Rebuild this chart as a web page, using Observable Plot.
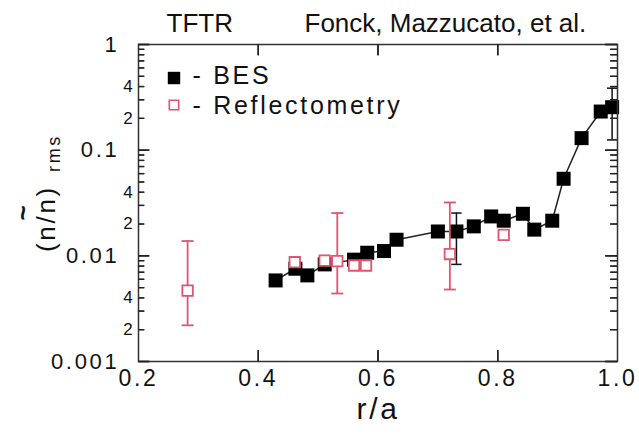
<!DOCTYPE html>
<html><head><meta charset="utf-8">
<script src="https://cdn.jsdelivr.net/npm/d3@7"></script>
<script src="https://cdn.jsdelivr.net/npm/@observablehq/plot@0.6"></script>
<style>
body{margin:0;background:#fff}
</style>
</head><body><div id="chart"></div>
<script>
// BES (filled squares)
const besX = [0.429,0.462,0.482,0.511,0.560,0.582,0.610,0.631,0.700,0.731,0.760,0.789,0.810,0.842,0.861,0.891,0.910,0.940,0.972,0.991];
const besY = [0.00585,0.00755,0.00653,0.0083,0.0092,0.0107,0.0111,0.0142,0.0170,0.0170,0.0190,0.0236,0.0215,0.0250,0.0177,0.0215,0.0536,0.130,0.232,0.255];
// Reflectometry (open squares)
const reflX = [0.282,0.461,0.511,0.532,0.560,0.580,0.720,0.810];
const reflY = [0.00468,0.0087,0.0090,0.0089,0.0081,0.0081,0.0104,0.0158];
// error bars
const besErrX = [0.731,0.991];
const besErrLo = [0.0083,0.125];
const besErrHi = [0.0254,0.386];
const reflErrX = [0.282,0.532,0.720];
const reflErrLo = [0.0022,0.0044,0.0048];
const reflErrHi = [0.0138,0.0254,0.032];
// ticks
const xDomain = [0.2,1.0];
const yDomain = [0.001,1];
const xTicks = [0.2,0.4,0.6,0.8,1.0];
const xTickLabels = ["0.2","0.4","0.6","0.8","1.0"];
const xInnerTicks = [0.4,0.6,0.8];
const yMajor = [0.001,0.01,0.1,1];
const yMajorLabels = ["0.001","0.01","0.1","1"];
const yMinorLabeled = [0.002,0.004,0.02,0.04,0.2,0.4];
const yMinorLabels = ["2","4","2","4","2","4"];
const yMinor = [0.002,0.003,0.004,0.005,0.006,0.007,0.008,0.009,
                0.02,0.03,0.04,0.05,0.06,0.07,0.08,0.09,
                0.2,0.3,0.4,0.5,0.6,0.7,0.8,0.9];

const RED = "#e0546f";
const FONT = "'Liberation Sans', Arial, Helvetica, sans-serif";
const W = 639, H = 434, ML = 138, MR = 22, MT = 44, MB = 73;
const FW = W - ML - MR, FH = H - MT - MB;   // frame size in px
const hline = {draw(ctx,size){const w=Math.sqrt(size);ctx.moveTo(-w/2,0);ctx.lineTo(w/2,0);}};
// fixed-length tick glyph pointing into the frame
const glyph = (dx,dy) => ({draw(ctx,size){ctx.moveTo(0,0);ctx.lineTo(dx,dy);}});
const TK = "#222";
const xMin = () => xDomain[0], xMax = () => xDomain[1];
const yMin = () => yDomain[0], yMax = () => yDomain[1];

const chart = Plot.plot({
  width:W, height:H,
  marginLeft:ML, marginRight:MR, marginTop:MT, marginBottom:MB,
  x:{domain:xDomain, axis:null},
  y:{type:"log", domain:yDomain, axis:null},
  style:{background:"#fff", color:"#222", fontFamily:FONT, letterSpacing:"2.7px"},
  marks:[
    // tick labels
    Plot.text(xTicks,{x:d=>d,frameAnchor:"bottom",lineAnchor:"middle",dy:17,text:(d,i)=>xTickLabels[i],fontSize:23,fill:"#111"}),
    Plot.text(yMajor,{y:d=>d,frameAnchor:"left",dx:-19,textAnchor:"end",lineAnchor:"middle",text:(d,i)=>yMajorLabels[i],fontSize:22,fill:"#111"}),
    Plot.text(yMinorLabeled,{y:d=>d,frameAnchor:"left",dx:-3,textAnchor:"end",lineAnchor:"middle",text:(d,i)=>yMinorLabels[i],fontSize:17,fill:"#111"}),
    // BES
    Plot.line(besX,{x:d=>d,y:(d,i)=>besY[i],stroke:"#222",strokeWidth:1.5}),
    Plot.ruleX(besErrX,{x:d=>d,y1:(d,i)=>besErrLo[i],y2:(d,i)=>besErrHi[i],stroke:"#111",strokeWidth:1.5}),
    Plot.dot(besErrX,{x:d=>d,y:(d,i)=>besErrLo[i],symbol:hline,r:5.8,stroke:"#111",strokeWidth:1.5}),
    Plot.dot(besErrX,{x:d=>d,y:(d,i)=>besErrHi[i],symbol:hline,r:5.8,stroke:"#111",strokeWidth:1.5}),
    Plot.dot(besX,{x:d=>d,y:(d,i)=>besY[i],symbol:"square",r:7.9,fill:"#000",stroke:"none"}),
    // Reflectometry
    Plot.ruleX(reflErrX,{x:d=>d,y1:(d,i)=>reflErrLo[i],y2:(d,i)=>reflErrHi[i],stroke:RED,strokeWidth:1.8}),
    Plot.dot(reflErrX,{x:d=>d,y:(d,i)=>reflErrLo[i],symbol:hline,r:6.8,stroke:RED,strokeWidth:1.8}),
    Plot.dot(reflErrX,{x:d=>d,y:(d,i)=>reflErrHi[i],symbol:hline,r:6.8,stroke:RED,strokeWidth:1.8}),
    Plot.dot(reflX,{x:d=>d,y:(d,i)=>reflY[i],symbol:"square",r:5.9,fill:"#fff",stroke:RED,strokeWidth:1.8}),
    // legend
    Plot.dot([0],{frameAnchor:"top-left",dx:35.5,dy:33.5,symbol:"square",r:7,fill:"#000",stroke:"none"}),
    Plot.dot([0],{frameAnchor:"top-left",dx:35.5,dy:60.5,symbol:"square",r:5.3,fill:"#fff",stroke:RED,strokeWidth:1.6}),
    Plot.text(["- BES"],{frameAnchor:"top-left",dx:54,dy:31,textAnchor:"start",lineAnchor:"middle",fontSize:25,fill:"#111"}),
    Plot.text(["- Reflectometry"],{frameAnchor:"top-left",dx:54,dy:61,textAnchor:"start",lineAnchor:"middle",fontSize:25,fill:"#111"}),
    // titles
    Plot.text(["TFTR"],{frameAnchor:"top-left",dx:28,dy:-21,textAnchor:"start",lineAnchor:"middle",fontSize:26,fill:"#111"}),
    Plot.text(["Fonck, Mazzucato, et al."],{frameAnchor:"top-left",dx:166,dy:-21,textAnchor:"start",lineAnchor:"middle",fontSize:26,fill:"#111"}),
    // axis titles
    Plot.text(["r/a"],{frameAnchor:"bottom",lineAnchor:"middle",textAnchor:"middle",dy:48,fontSize:30,fill:"#111"}),
    Plot.text(["(n/n)"],{frameAnchor:"left",textAnchor:"middle",lineAnchor:"middle",dx:-92,dy:15.5,rotate:-90,fontSize:26,fill:"#111"}),
    Plot.text(["rms"],{frameAnchor:"left",textAnchor:"middle",lineAnchor:"middle",dx:-84,dy:-50,rotate:-90,fontSize:18,fill:"#111"}),
    Plot.text(["~"],{frameAnchor:"left",textAnchor:"middle",lineAnchor:"middle",dx:-115,dy:10,rotate:-90,fontSize:26,fontWeight:"bold",fill:"#111"}),
    // frame and inward ticks (on top)
    Plot.frame({stroke:"#333",strokeWidth:1.5}),
    Plot.ruleX(xInnerTicks,{x:d=>d,insetTop:FH-11,stroke:TK,strokeWidth:1.5}),
    Plot.ruleX(xInnerTicks,{x:d=>d,insetBottom:FH-11,stroke:TK,strokeWidth:1.5}),
    Plot.ruleY(yMajor,{y:d=>d,insetRight:FW-11,stroke:TK,strokeWidth:1.5}),
    Plot.ruleY(yMajor,{y:d=>d,insetLeft:FW-12,stroke:TK,strokeWidth:1.5}),
    Plot.ruleY(yMinor,{y:d=>d,insetRight:FW-6,stroke:TK,strokeWidth:1.3}),
    Plot.ruleY(yMinor,{y:d=>d,insetLeft:FW-7,stroke:TK,strokeWidth:1.3}),
    Plot.dot(xInnerTicks,{x:d=>d,y:yMin,symbol:glyph(0,-11),r:5,stroke:TK,strokeWidth:1.5}),
    Plot.dot(xInnerTicks,{x:d=>d,y:yMax,symbol:glyph(0,11),r:5,stroke:TK,strokeWidth:1.5}),
    Plot.dot(yMajor,{x:xMin,y:d=>d,symbol:glyph(11,0),r:5,stroke:TK,strokeWidth:1.5}),
    Plot.dot(yMajor,{x:xMax,y:d=>d,symbol:glyph(-12,0),r:5,stroke:TK,strokeWidth:1.5}),
    Plot.dot(yMinor,{x:xMin,y:d=>d,symbol:glyph(6,0),r:5,stroke:TK,strokeWidth:1.3}),
    Plot.dot(yMinor,{x:xMax,y:d=>d,symbol:glyph(-7,0),r:5,stroke:TK,strokeWidth:1.3})
  ]
});
d3.select(chart).selectAll("text").filter(function(){
  const t=this.textContent; return t==="TFTR"||t.startsWith("Fonck")||t==="~";
}).style("letter-spacing","0px");
document.getElementById("chart").appendChild(chart);
</script>
</body></html>
